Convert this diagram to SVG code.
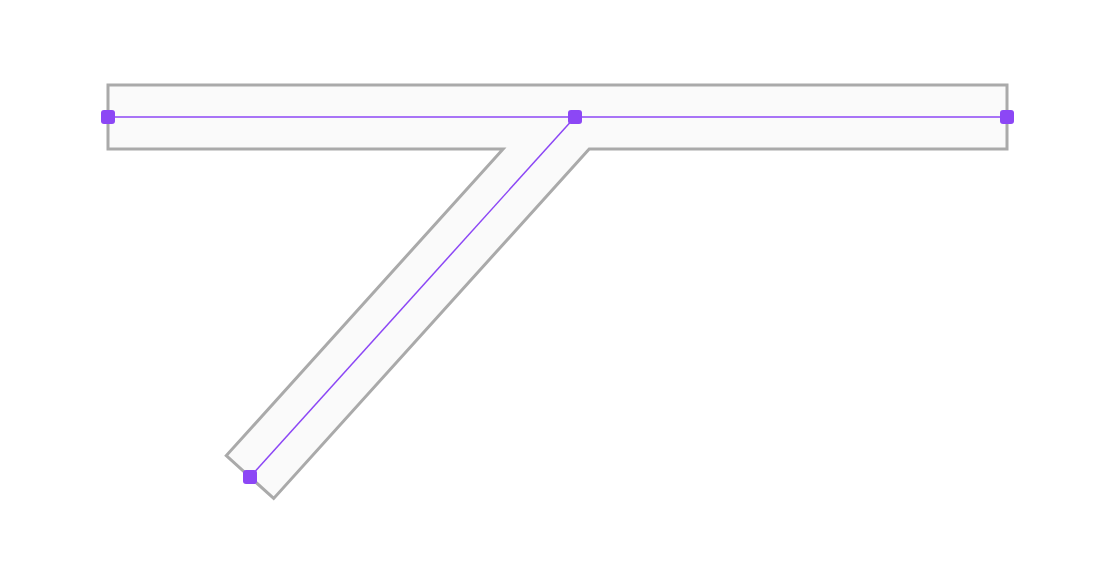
<svg xmlns="http://www.w3.org/2000/svg" width="1106" height="584" viewBox="0 0 1106 584">
<style>
.road{fill:#fafafa;stroke:#aaaaaa;stroke-width:3;stroke-linejoin:miter}
.center{fill:none;stroke:#8c47f5;stroke-width:1.5}
.pt{fill:#8c47f5}
</style>
<rect width="1106" height="584" fill="#ffffff"/>
<g id="road">
<path class="road" d="M108,85 H1007 V149 H589.2 L273.7,498.4 L226.3,455.6 L503.1,149 H108 Z"/>
</g>
<g id="connectors">
<path class="center" d="M108,117 H1007"/>
<path class="center" d="M575,117 L250,477"/>
</g>
<g id="node-a"><rect class="pt" x="101" y="110" width="14" height="14" rx="3"/></g>
<g id="node-b"><rect class="pt" x="568" y="110" width="14" height="14" rx="3"/></g>
<g id="node-c"><rect class="pt" x="1000" y="110" width="14" height="14" rx="3"/></g>
<g id="node-d"><rect class="pt" x="243" y="470" width="14" height="14" rx="3"/></g>
</svg>
